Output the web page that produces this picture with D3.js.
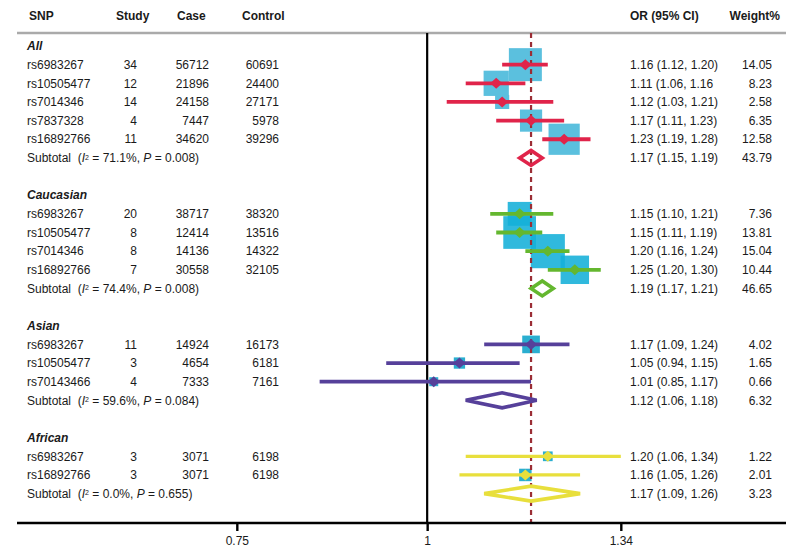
<!DOCTYPE html>
<html>
<head>
<meta charset="utf-8">
<script src="https://cdn.jsdelivr.net/npm/d3@7/dist/d3.min.js"></script>
<style>
  body { margin: 0; background: #fff; }
  svg { display: block; font-family: "Liberation Sans", Arial, sans-serif; }
</style>
</head>
<body>
<svg id="chart" width="800" height="559"></svg>
<script>
// ---------------- DATA ----------------
const groupNames = ["All", "Caucasian", "Asian", "African"];

const rowGroup = ["All","All","All","All","All",
                  "Caucasian","Caucasian","Caucasian","Caucasian",
                  "Asian","Asian","Asian",
                  "African","African"];
const snpNames = ["rs6983267","rs10505477","rs7014346","rs7837328","rs16892766",
                  "rs6983267","rs10505477","rs7014346","rs16892766",
                  "rs6983267","rs10505477","rs70143466",
                  "rs6983267","rs16892766"];
const studies  = [34,12,14,4,11, 20,8,8,7, 11,3,4, 3,3];
const cases    = [56712,21896,24158,7447,34620, 38717,12414,14136,30558, 14924,4654,7333, 3071,3071];
const controls = [60691,24400,27171,5978,39296, 38320,13516,14322,32105, 16173,6181,7161, 6198,6198];
const orVals   = [1.16,1.11,1.12,1.17,1.23, 1.15,1.15,1.20,1.25, 1.17,1.05,1.01, 1.20,1.16];
const ciLow    = [1.12,1.06,1.03,1.11,1.19, 1.10,1.11,1.16,1.20, 1.09,0.94,0.85, 1.06,1.05];
const ciHigh   = [1.20,1.16,1.21,1.23,1.28, 1.21,1.19,1.24,1.30, 1.24,1.15,1.17, 1.34,1.26];
const ciLabels = ["1.16 (1.12, 1.20)","1.11 (1.06, 1.16","1.12 (1.03, 1.21)","1.17 (1.11, 1.23)","1.23 (1.19, 1.28)",
                  "1.15 (1.10, 1.21)","1.15 (1.11, 1.19)","1.20 (1.16, 1.24)","1.25 (1.20, 1.30)",
                  "1.17 (1.09, 1.24)","1.05 (0.94, 1.15)","1.01 (0.85, 1.17)",
                  "1.20 (1.06, 1.34)","1.16 (1.05, 1.26)"];
const weights  = [14.05,8.23,2.58,6.35,12.58, 7.36,13.81,15.04,10.44, 4.02,1.65,0.66, 1.22,2.01];

const subI2     = ["71.1%","74.4%","59.6%","0.0%"];
const subP      = ["0.008","0.008","0.084","0.655"];
const subOR     = [1.17,1.19,1.12,1.17];
const subLow    = [1.15,1.17,1.06,1.09];
const subHigh   = [1.19,1.21,1.18,1.26];
const subLabels = ["1.17 (1.15, 1.19)","1.19 (1.17, 1.21)","1.12 (1.06, 1.18)","1.17 (1.09, 1.26)"];
const subWeight = ["43.79","46.65","6.32","3.23"];

const overallOR = 1.17;
const xTicks = [0.75, 1, 1.34];
const xTickLabels = ["0.75", "1", "1.34"];

// ---------------- STYLE ----------------
const lineColor = {All:"#e0244a", Caucasian:"#64b72f", Asian:"#56409a", African:"#e8df3c"};
const boxColor  = {All:"#5bc0de", Caucasian:"#13afd8", Asian:"#2aaed0", African:"#2aaed0"};

// ---------------- LAYOUT ----------------
const svg = d3.select("#chart");
const leftX = 17, rightX = 786;
const headerLineY = 33, axisY = 523;

// build row layout
const rows = [];
let idx = 0;
groupNames.forEach((g, gi) => {
  rows.push({type:"group", name:g, idx: idx++});
  rowGroup.forEach((rg, i) => { if (rg === g) rows.push({type:"study", i, g, idx: idx++}); });
  rows.push({type:"sub", gi, g, idx: idx++});
  idx++; // blank spacer
});

const y = d3.scaleLinear().domain([0, 24]).range([46, 493.6]);
const x = d3.scaleLog().domain([0.538, 1.72]).range([leftX, rightX]);

const txt = "#1a1a1a";
const fs = 12;

// header
const hdr = svg.append("g").attr("font-weight", "bold").attr("font-size", fs).attr("fill", txt);
hdr.append("text").attr("x", 29).attr("y", 19.5).text("SNP");
hdr.append("text").attr("x", 116).attr("y", 19.5).text("Study");
hdr.append("text").attr("x", 177).attr("y", 19.5).text("Case");
hdr.append("text").attr("x", 242).attr("y", 19.5).text("Control");
hdr.append("text").attr("x", 630).attr("y", 19.5).text("OR (95% CI)");
hdr.append("text").attr("x", 780).attr("y", 19.5).attr("text-anchor", "end").text("Weight%");

svg.append("line").attr("x1", leftX).attr("x2", rightX).attr("y1", headerLineY).attr("y2", headerLineY)
  .attr("stroke", "#aaaaaa").attr("stroke-width", 2.6);

// null line at 1
svg.append("line").attr("x1", x(1)).attr("x2", x(1)).attr("y1", headerLineY).attr("y2", axisY)
  .attr("stroke", "#000").attr("stroke-width", 2.2);

// boxes (drawn first)
const plot = svg.append("g");
const boxSide = w => Math.max(9, 8.8 * Math.sqrt(w));
rows.filter(r => r.type === "study").forEach(r => {
  const i = r.i, s = boxSide(weights[i]);
  plot.append("rect")
    .attr("x", x(orVals[i]) - s/2).attr("y", y(r.idx) - s/2)
    .attr("width", s).attr("height", s)
    .attr("fill", boxColor[r.g])
    .attr("fill-opacity", r.g === "Caucasian" ? 0.88 : 1);
});

// dashed overall line
svg.append("line").attr("x1", x(overallOR)).attr("x2", x(overallOR)).attr("y1", headerLineY).attr("y2", axisY)
  .attr("stroke", "#9b2d35").attr("stroke-width", 2.2).attr("stroke-dasharray", "5,4");

// CI lines and point markers
const marks = svg.append("g");
rows.filter(r => r.type === "study").forEach(r => {
  const i = r.i, yy = y(r.idx), c = lineColor[r.g];
  marks.append("line").attr("x1", x(ciLow[i])).attr("x2", x(ciHigh[i])).attr("y1", yy).attr("y2", yy)
    .attr("stroke", c).attr("stroke-width", r.g === "African" ? 3.2 : 3.8);
  const cx = x(orVals[i]);
  marks.append("path")
    .attr("d", `M${cx-6},${yy} L${cx},${yy-5.5} L${cx+6},${yy} L${cx},${yy+5.5} Z`)
    .attr("fill", c);
});

// subtotal diamonds
rows.filter(r => r.type === "sub").forEach(r => {
  const gi = r.gi, yy = y(r.idx), c = lineColor[r.g];
  const l = x(subLow[gi]), m = x(subOR[gi]), h = x(subHigh[gi]);
  marks.append("path")
    .attr("d", `M${l},${yy} L${m},${yy-7.5} L${h},${yy} L${m},${yy+7.5} Z`)
    .attr("fill", "none").attr("stroke", c).attr("stroke-width", 3.6).attr("stroke-linejoin", "miter");
});

// table text
const tt = svg.append("g").attr("font-size", fs).attr("fill", txt);
rows.forEach(r => {
  const yy = y(r.idx);
  if (r.type === "group") {
    tt.append("text").attr("x", 27).attr("y", yy).attr("dy", "0.35em")
      .attr("font-weight", "bold").attr("font-style", "italic").text(r.name);
  } else if (r.type === "study") {
    const i = r.i;
    tt.append("text").attr("x", 27).attr("y", yy).attr("dy", "0.35em").text(snpNames[i]);
    tt.append("text").attr("x", 137).attr("y", yy).attr("dy", "0.35em").attr("text-anchor", "end").text(studies[i]);
    tt.append("text").attr("x", 209).attr("y", yy).attr("dy", "0.35em").attr("text-anchor", "end").text(cases[i]);
    tt.append("text").attr("x", 279).attr("y", yy).attr("dy", "0.35em").attr("text-anchor", "end").text(controls[i]);
    tt.append("text").attr("x", 630).attr("y", yy).attr("dy", "0.35em").text(ciLabels[i]);
    tt.append("text").attr("x", 772).attr("y", yy).attr("dy", "0.35em").attr("text-anchor", "end").text(weights[i].toFixed(2));
  } else {
    const gi = r.gi;
    const t = tt.append("text").attr("x", 27).attr("y", yy).attr("dy", "0.35em").attr("xml:space", "preserve");
    t.append("tspan").text("Subtotal  (");
    t.append("tspan").attr("font-style", "italic").text("I");
    t.append("tspan").attr("font-size", 7).attr("dy", "-0.35em").text("2");
    t.append("tspan").attr("dy", "0.2em").text(" = " + subI2[gi] + ", ");
    t.append("tspan").attr("font-style", "italic").text("P");
    t.append("tspan").text(" = " + subP[gi] + ")");
    tt.append("text").attr("x", 630).attr("y", yy).attr("dy", "0.35em").text(subLabels[gi]);
    tt.append("text").attr("x", 772).attr("y", yy).attr("dy", "0.35em").attr("text-anchor", "end").text(subWeight[gi]);
  }
});

// x axis
const axis = d3.axisBottom(x).tickValues(xTicks).tickFormat((d, i) => xTickLabels[i]).tickSize(8).tickPadding(5);
const ag = svg.append("g").attr("transform", `translate(0,${axisY})`).call(axis);
ag.select(".domain").attr("d", `M${leftX},0H${rightX}`).attr("stroke", "#000").attr("stroke-width", 2.4);
ag.selectAll(".tick line").attr("stroke", "#000").attr("stroke-width", 2.4);
ag.selectAll(".tick text").attr("font-size", 12).attr("fill", txt)
  .attr("font-family", "'Liberation Sans', Arial, sans-serif");
</script>
</body>
</html>
